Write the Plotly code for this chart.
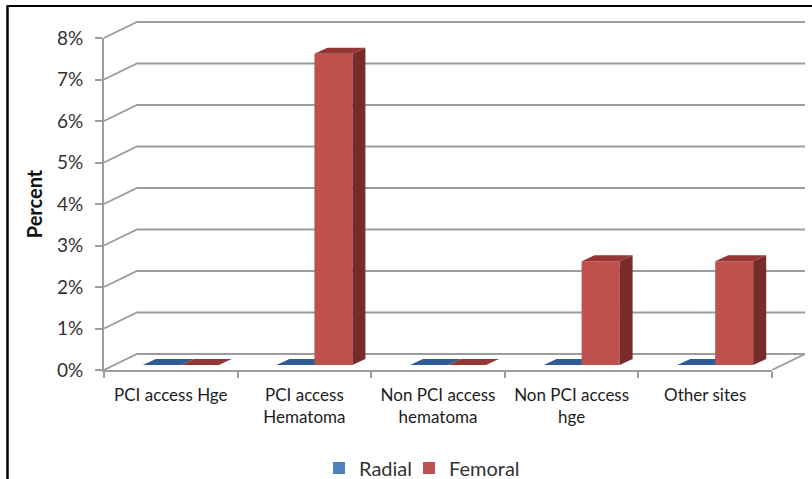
import plotly.graph_objects as go

W, H = 812, 479

categories = ["PCI access Hge", "PCI access<br>Hematoma", "Non PCI access<br>hematoma",
              "Non PCI access<br>hge", "Other sites"]
radial = [0, 0, 0, 0, 0]
femoral = [0, 7.5, 0, 2.5, 2.5]
percent_ticks = [0, 1, 2, 3, 4, 5, 6, 7, 8]
percent_labels = ["0%", "1%", "2%", "3%", "4%", "5%", "6%", "7%", "8%"]

# Plot box in pixels: the axes run from the front corner of the 3-D floor.
AX_L, AX_R, AX_B, AX_T = 104, 772, 370, 38
PX_X = (AX_R - AX_L) / 5
PX_Y = (AX_B - AX_T) / 8
FONT = "Lato, 'Noto Sans', sans-serif"


def dx(px):
    return px / PX_X


def dy(px):
    return px / PX_Y


WALL_PX_X, WALL_PX_Y = 33, 16
WALL_X, WALL_Y = dx(WALL_PX_X), dy(WALL_PX_Y)   # depth of the floor
BAR_DX, BAR_DY = dx(13), dy(6)                  # depth of each column
BAR_W = dx(38)
GRID = "#9c9c9c"
LINE_W = 1.8
CENTRES = [i + 0.5 for i in range(5)]


def plane(shift_x, shift_y):
    """Axis pair domains moved up and right by the given pixel offsets."""
    return (dict(domain=[(AX_L + shift_x) / W, (AX_R + shift_x) / W], range=[0, 5]),
            dict(domain=[(H - AX_B + shift_y) / H, (H - AX_T + shift_y) / H], range=[0, 8]))


def column_faces(values, left_edge):
    """Outlines of the side and top faces of a column series."""
    side_x, side_y, top_x, top_y = [], [], [], []
    for i, v in enumerate(values):
        x0 = CENTRES[i] + left_edge
        x1 = x0 + BAR_W
        side_x += [x1, x1 + BAR_DX, x1 + BAR_DX, x1, x1, None]
        side_y += [0, BAR_DY, v + BAR_DY, v, 0, None]
        top_x += [x0, x0 + BAR_DX, x1 + BAR_DX, x1, x0, None]
        top_y += [v, v + BAR_DY, v + BAR_DY, v, v, None]
    return side_x, side_y, top_x, top_y


fig = go.Figure()

# Back wall gridlines with their diagonal run down the left wall
grid_x, grid_y = [], []
for t in percent_ticks:
    grid_x += [0, WALL_X, 5 + WALL_X, None]
    grid_y += [t, t + WALL_Y, t + WALL_Y, None]
fig.add_trace(go.Scatter(x=grid_x, y=grid_y, mode="lines", showlegend=False,
                         hoverinfo="skip", line=dict(color=GRID, width=LINE_W)))
# Right edge of the floor
fig.add_trace(go.Scatter(x=[5, 5 + WALL_X], y=[0, WALL_Y], mode="lines",
                         showlegend=False, hoverinfo="skip", line=dict(color=GRID, width=LINE_W)))

# Undrawn trace so that the labelled front axes are laid out
fig.add_trace(go.Scatter(x=CENTRES, y=radial, mode="none", showlegend=False,
                         hoverinfo="skip", xaxis="x2", yaxis="y2"))

series = [
    ("Radial", radial, -BAR_W, "#4F81BD", "#2F5C94", "#2F5C94", "x3", "y3", "legend"),
    ("Femoral", femoral, 0, "#C0504D", "#772C2A", "#943634", "x4", "y4", "legend2"),
]
for name, values, left, front, side, top, xa, ya, leg in series:
    fig.add_trace(go.Bar(x=CENTRES, y=values, name=name, width=BAR_W,
                         offset=left, marker=dict(color=front, line=dict(width=0)),
                         xaxis=xa, yaxis=ya, legend=leg))
    sx, sy, tx, ty = column_faces(values, left)
    for fx, fy, colour in ((sx, sy, side), (tx, ty, top)):
        fig.add_trace(go.Scatter(x=fx, y=fy, mode="lines", fill="toself", fillcolor=colour,
                                 line=dict(width=0), showlegend=False,
                                 hoverinfo="skip", xaxis=xa, yaxis=ya))

x_main, y_main = plane(0, 0)
x_bars, y_bars = plane(10, 5)
hidden = dict(visible=False, fixedrange=True)

# Extended pair for the wall: it reaches past the front axes by the floor depth.
x_wall = dict(domain=[AX_L / W, (AX_R + WALL_PX_X) / W], range=[0, 5 + WALL_X])
y_wall = dict(domain=[(H - AX_B) / H, (H - AX_T + WALL_PX_Y + 2) / H],
              range=[0, 8 + dy(WALL_PX_Y + 2)])


def legend_at(left_px):
    return dict(orientation="h", x=left_px / W, xanchor="left", y=(H - 468) / H, yanchor="middle",
                font=dict(family=FONT, size=20, color="#333333"), bgcolor="rgba(0,0,0,0)")


fig.update_layout(
    width=W, height=H, autosize=False,
    margin=dict(l=0, r=0, t=0, b=0, autoexpand=False),
    paper_bgcolor="white", plot_bgcolor="rgba(0,0,0,0)",
    barmode="overlay",
    xaxis=dict(**x_wall, anchor="y", **hidden),
    yaxis=dict(**y_wall, anchor="x", **hidden),
    xaxis2=dict(**x_main, anchor="y2", tickmode="array",
                tickvals=CENTRES, ticktext=categories, ticks="",
                showgrid=False, zeroline=False, showline=True, linecolor=GRID, linewidth=LINE_W,
                tickfont=dict(family=FONT, size=17, color="#1c1c1c"), ticklabelstandoff=9,
                minor=dict(tickmode="array", tickvals=[0, 1, 2, 3, 4, 5], ticks="outside",
                           ticklen=6, tickwidth=LINE_W, tickcolor=GRID, showgrid=False)),
    yaxis2=dict(**y_main, anchor="x2", tickmode="array",
                tickvals=percent_ticks, ticktext=percent_labels,
                ticks="outside", ticklen=7, tickwidth=LINE_W, tickcolor=GRID, showgrid=False,
                zeroline=False, showline=True, linecolor=GRID, linewidth=LINE_W,
                tickfont=dict(family=FONT, size=19, color="#333333"), ticklabelstandoff=8,
                title=dict(text="<b>Percent</b>", standoff=9,
                           font=dict(family=FONT, size=20, color="#111111"))),
    xaxis3=dict(**x_bars, anchor="y3", **hidden),
    yaxis3=dict(**y_bars, anchor="x3", **hidden),
    xaxis4=dict(**x_bars, anchor="y4", **hidden),
    yaxis4=dict(**y_bars, anchor="x4", **hidden),
    legend=legend_at(319),
    legend2=legend_at(409),
    shapes=[
        dict(type="line", xref="paper", yref="paper", x0=7.5 / W, x1=7.5 / W, y0=0, y1=(H - 6) / H,
             line=dict(color="black", width=2.5)),
        dict(type="line", xref="paper", yref="paper", x0=6.5 / W, x1=1, y0=(H - 6) / H, y1=(H - 6) / H,
             line=dict(color="black", width=2)),
    ],
)

fig.write_html("out.html")
